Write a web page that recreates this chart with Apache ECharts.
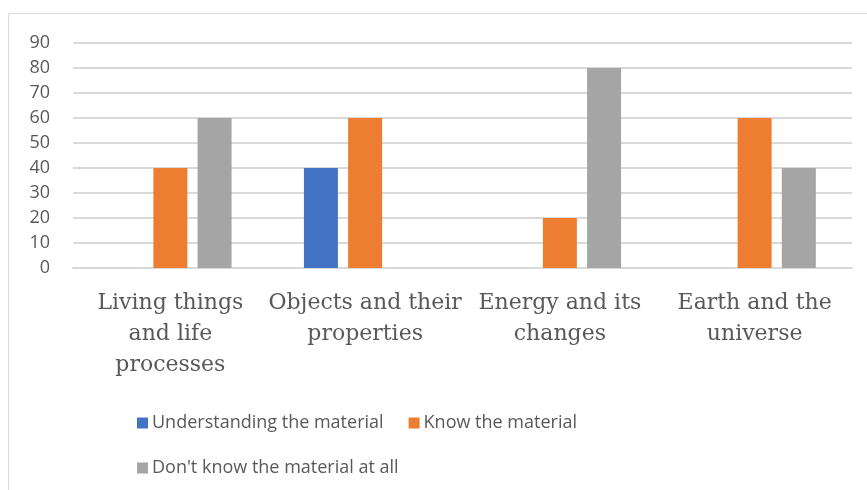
<!DOCTYPE html>
<html><head><meta charset="utf-8">
<script src="https://cdn.jsdelivr.net/npm/echarts@6/dist/echarts.min.js"></script>
<style>html,body{margin:0;padding:0;background:#fff}#c{width:867px;height:490px}</style>
</head><body><div id="c"></div>
<script>
const categories = ["Living things\nand life\nprocesses", "Objects and their\nproperties", "Energy and its\nchanges", "Earth and the\nuniverse"];
const seriesNames = ["Understanding the material", "Know the material", "Don't know the material at all"];
const understanding = [0, 40, 0, 0];
const know = [40, 60, 20, 60];
const dontKnow = [60, 0, 80, 40];
const colors = ["#4472C4", "#ED7D31", "#A5A5A5"];

const chart = echarts.init(document.getElementById('c'), null, {renderer: 'canvas'});
const txt = '#595959';
chart.setOption({
  animation: false,
  graphic: [{type: 'rect', shape: {x: 8.5, y: 13.5, width: 1000, height: 1000}, style: {fill: 'none', stroke: '#D9D9D9', lineWidth: 1}, silent: true}],
  grid: {left: 73, right: 15, top: 43, bottom: 222},
  legend: [
    {data: [seriesNames[0], seriesNames[1]], left: 132, top: 409, icon: 'rect', itemWidth: 11, itemHeight: 11, itemGap: 25, itemStyle: {borderWidth: 0},
     textStyle: {color: txt, fontSize: 18, fontFamily: 'Open Sans', padding: [0, 0, 0, -1]}},
    {data: [seriesNames[2]], left: 132, top: 454, icon: 'rect', itemWidth: 11, itemHeight: 11, itemStyle: {borderWidth: 0},
     textStyle: {color: txt, fontSize: 18, fontFamily: 'Open Sans', padding: [0, 0, 0, -1]}}
  ],
  xAxis: {type: 'category', data: categories,
    axisLine: {show: true, lineStyle: {color: '#D9D9D9', width: 2}}, axisTick: {show: false},
    axisLabel: {color: txt, fontSize: 22, fontFamily: 'DejaVu Serif', lineHeight: 31, margin: 20, interval: 0}},
  yAxis: {type: 'value', min: 0, max: 90, interval: 10,
    axisLine: {show: false}, axisTick: {show: false},
    splitLine: {lineStyle: {color: '#D9D9D9', width: 2}},
    axisLabel: {color: txt, fontSize: 18, fontFamily: 'Open Sans', margin: 23}},
  series: [
    {name: seriesNames[0], type: 'bar', data: understanding, barWidth: 34, barGap: '30%', itemStyle: {color: colors[0]}},
    {name: seriesNames[1], type: 'bar', data: know, barWidth: 34, barGap: '30%', itemStyle: {color: colors[1]}},
    {name: seriesNames[2], type: 'bar', data: dontKnow, barWidth: 34, barGap: '30%', itemStyle: {color: colors[2]}}
  ]
});
</script></body></html>
